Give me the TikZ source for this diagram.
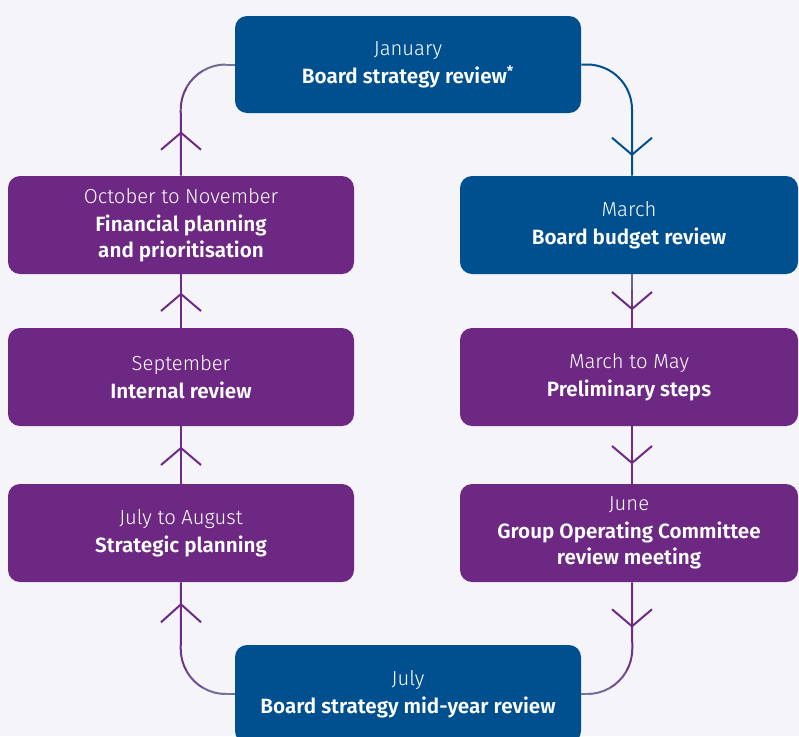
\documentclass[tikz,border=0pt]{standalone}
\usepackage{fontspec}
\setmainfont{Fira Sans}
\IfFontExistsTF{Fira Sans Light}
  {\newfontfamily\monthfontbase{Fira Sans Light}}
  {\IfFontExistsTF{Lato Light}{\newfontfamily\monthfontbase{Lato Light}}{\newfontfamily\monthfontbase{Fira Sans}}}
\newcommand\monthfont{\monthfontbase\fontsize{15.2}{19.5}\selectfont}
\IfFontExistsTF{Fira Sans SemiBold}
  {\newfontfamily\titlefontbase{Fira Sans SemiBold}\newcommand\titlefont{\titlefontbase}}
  {\newfontfamily\titlefontbase{Fira Sans}\newcommand\titlefont{\titlefontbase\bfseries}}
\usetikzlibrary{calc}
\definecolor{bg}{HTML}{F5F4F9}
\definecolor{boxblue}{HTML}{00508F}
\definecolor{boxpurple}{HTML}{6C2882}
\definecolor{lgray}{HTML}{6F7899}
\definecolor{lpurple}{HTML}{6E2A84}
\begin{document}
\begin{tikzpicture}[x=0.75pt,y=0.75pt,
  stagebox/.style={rectangle, rounded corners=9pt, inner sep=0pt, text=white,
    align=center, minimum width=259.5pt, minimum height=73.5pt,
    font=\fontsize{15.5}{19.5}\selectfont},
  bluebox/.style={stagebox, fill=boxblue},
  purplebox/.style={stagebox, fill=boxpurple},
  narrowbox/.style={minimum width=253.5pt},
  conn/.style={line width=1.5pt},
  bline/.style={conn, draw=boxblue},
  pline/.style={conn, draw=lpurple},
  gline/.style={conn, draw=lgray},
  chevp/.style={conn, draw=lpurple},
  chevb/.style={conn, draw=boxblue}]
\useasboundingbox (0,0) rectangle (799,-736);
\fill[bg] (0,0) rectangle (799,-736);
\clip (0,0) rectangle (799,-736);

% nodes
\node[bluebox, minimum height=72.75pt] (jan) at (408,-64.5)
  {{\monthfont January}\\[1.5pt]{\titlefont Board strategy review\textsuperscript{*}}};
\node[purplebox] (fin) at (181,-225)
  {{\monthfont October to November}\\[1.5pt]{\titlefont Financial planning}\\{\titlefont and prioritisation}};
\node[purplebox] (int) at (181,-377)
  {{\monthfont September}\\[1.5pt]{\titlefont Internal review}};
\node[purplebox] (strat) at (181,-533)
  {{\monthfont July to August}\\[1.5pt]{\titlefont Strategic planning}};
\node[bluebox, narrowbox] (mar) at (629,-225)
  {{\monthfont March}\\[1.5pt]{\titlefont Board budget review}};
\node[purplebox, narrowbox] (pre) at (629,-377)
  {{\monthfont March to May}\\[1.5pt]{\titlefont Preliminary steps}};
\node[purplebox, narrowbox] (jun) at (629,-533)
  {{\monthfont June}\\[1.5pt]{\titlefont Group Operating Committee}\\{\titlefont review meeting}};
\node[bluebox] (jul) at (408,-694)
  {{\monthfont July}\\[1.5pt]{\titlefont Board strategy mid-year review}};

\coordinate (rx) at (632,0);

% top-left: January -> October to November
\coordinate (tlc) at ($(jan.west)+(-9,-45)$);
\draw[gline] (jan.west) -- ($(tlc)+(90:45)$);
\draw[conn, lgray!85!lpurple] ($(tlc)+(90:45)$) arc[start angle=90, end angle=120, radius=45];
\draw[conn, lgray!50!lpurple] ($(tlc)+(120:45)$) arc[start angle=120, end angle=150, radius=45];
\draw[conn, lgray!15!lpurple] ($(tlc)+(150:45)$) arc[start angle=150, end angle=180, radius=45];
\draw[pline] ($(tlc)+(180:45)$) -- (fin.north);
\draw[chevp] ($(fin.north)+(-20,26)$) -- ++(20,17) -- ++(20,-17);

% top-right: January -> March
\draw[bline, rounded corners=33.75pt] (jan.east) -| (mar.north -| rx);
\draw[chevb] ($(mar.north -| rx)+(-20,38)$) -- ++(20,-17) -- ++(20,17);

% March -> March to May
\draw[conn, lgray!70!lpurple] (mar.south -| rx) -- ($(mar.south -| rx)+(0,-16)$);
\draw[conn, lgray!35!lpurple] ($(mar.south -| rx)+(0,-16)$) -- ($(mar.south -| rx)+(0,-31)$);
\draw[pline] ($(mar.south -| rx)+(0,-31)$) -- (pre.north -| rx);
\coordinate (m1) at ($(mar.south -| rx)!0.5!(pre.north -| rx)$);
\draw[chevp] ($(m1)+(-20,9)$) -- ++(20,-17) -- ++(20,17);

% March to May -> June
\draw[pline] (pre.south -| rx) -- (jun.north -| rx);
\coordinate (m2) at ($(pre.south -| rx)!0.5!(jun.north -| rx)$);
\draw[chevp] ($(m2)+(-20,9)$) -- ++(20,-17) -- ++(20,17);

% June -> July
\coordinate (brc) at ($(jul.east)+(6,45)$);
\draw[pline] (jun.south -| rx) -- ($(brc)+(0:45)$);
\draw[conn, lgray!15!lpurple] ($(brc)+(0:45)$) arc[start angle=0, end angle=-30, radius=45];
\draw[conn, lgray!50!lpurple] ($(brc)+(-30:45)$) arc[start angle=-30, end angle=-60, radius=45];
\draw[conn, lgray!85!lpurple] ($(brc)+(-60:45)$) arc[start angle=-60, end angle=-90, radius=45];
\draw[gline] ($(brc)+(-90:45)$) -- (jul.east);
\draw[chevp] ($(jun.south -| rx)+(-20,-27)$) -- ++(20,-17) -- ++(20,17);

% July -> July to August
\coordinate (blc) at ($(jul.west)+(-9,45)$);
\draw[gline] (jul.west) -- ($(blc)+(-90:45)$);
\draw[conn, lgray!85!lpurple] ($(blc)+(-90:45)$) arc[start angle=-90, end angle=-120, radius=45];
\draw[conn, lgray!50!lpurple] ($(blc)+(-120:45)$) arc[start angle=-120, end angle=-150, radius=45];
\draw[conn, lgray!15!lpurple] ($(blc)+(-150:45)$) arc[start angle=-150, end angle=-180, radius=45];
\draw[pline] ($(blc)+(180:45)$) -- (strat.south);
\draw[chevp] ($(strat.south)+(-20,-40)$) -- ++(20,18) -- ++(20,-18);

% July to August -> September
\draw[pline] (strat.north) -- (int.south);
\coordinate (m3) at ($(strat.north)!0.5!(int.south)$);
\draw[chevp] ($(m3)+(-20,-10)$) -- ++(20,17) -- ++(20,-17);

% September -> October to November
\draw[pline] (int.north) -- (fin.south);
\coordinate (m4) at ($(int.north)!0.5!(fin.south)$);
\draw[chevp] ($(m4)+(-20,-10)$) -- ++(20,17) -- ++(20,-17);
\end{tikzpicture}
\end{document}
